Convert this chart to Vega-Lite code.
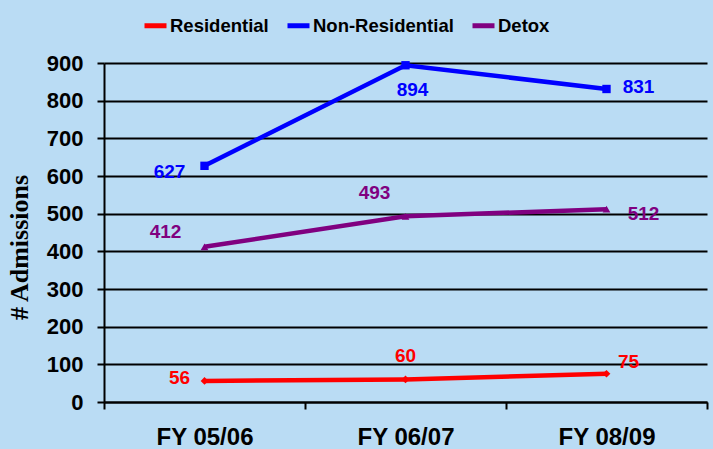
{
  "$schema": "https://vega.github.io/schema/vega-lite/v6.json",
  "width": 603,
  "height": 339,
  "autosize": {"type": "none"},
  "padding": {"left": 104, "top": 63, "right": 6, "bottom": 47},
  "background": "#badcf4",
  "config": {
    "view": {"stroke": null},
    "font": "Liberation Sans"
  },
  "data": {
    "values": [
      {"period": "FY 05/06", "series": "Residential", "admissions": 56},
      {"period": "FY 06/07", "series": "Residential", "admissions": 60},
      {"period": "FY 08/09", "series": "Residential", "admissions": 75},
      {"period": "FY 05/06", "series": "Non-Residential", "admissions": 627},
      {"period": "FY 06/07", "series": "Non-Residential", "admissions": 894},
      {"period": "FY 08/09", "series": "Non-Residential", "admissions": 831},
      {"period": "FY 05/06", "series": "Detox", "admissions": 412},
      {"period": "FY 06/07", "series": "Detox", "admissions": 493},
      {"period": "FY 08/09", "series": "Detox", "admissions": 512}
    ]
  },
  "encoding": {
    "x": {
      "field": "period", "type": "nominal", "sort": null,
      "scale": {"paddingInner": 0, "paddingOuter": 0},
      "axis": {
        "title": null, "labelAngle": 0, "tickBand": "extent",
        "domainColor": "black", "domainWidth": 2, "tickColor": "black", "tickWidth": 2, "tickSize": 7,
        "labelFont": "Liberation Sans", "labelFontWeight": "bold", "labelFontSize": 24, "labelColor": "black",
        "labelPadding": 16
      }
    },
    "y": {
      "field": "admissions", "type": "quantitative",
      "scale": {"domain": [0, 900], "nice": false},
      "axis": {
        "title": "# Admissions", "values": [0,100,200,300,400,500,600,700,800,900],
        "titleFont": "Liberation Serif", "titleFontWeight": "bold", "titleFontSize": 26, "titleColor": "black", "titlePadding": 14,
        "titleY": 184,
        "domainColor": "black", "domainWidth": 2, "tickColor": "black", "tickWidth": 2, "tickSize": 7,
        "gridColor": "black", "gridWidth": 2, "gridOpacity": 1,
        "labelFont": "Liberation Sans", "labelFontWeight": "bold", "labelFontSize": 22, "labelColor": "black",
        "labelPadding": 14
      }
    },
    "color": {
      "field": "series", "type": "nominal",
      "scale": {"domain": ["Residential", "Non-Residential", "Detox"], "range": ["#ff0000", "#0000ff", "#800080"]},
      "legend": null
    }
  },
  "layer": [
    {
      "mark": {"type": "line", "strokeWidth": 4.5},
      "encoding": {
        "color": {
          "field": "series", "type": "nominal",
          "scale": {"domain": ["Residential", "Non-Residential", "Detox"], "range": ["#ff0000", "#0000ff", "#800080"]},
          "legend": {
            "title": null, "orient": "none", "direction": "horizontal",
            "legendX": 38, "legendY": -51,
            "symbolType": "stroke", "symbolSize": 484, "symbolStrokeWidth": 5,
            "labelFont": "Liberation Sans", "labelFontWeight": "bold", "labelFontSize": 18.5, "labelColor": "black",
            "labelOffset": 1, "columnPadding": 8
          }
        }
      }
    },
    {
      "transform": [{"filter": "datum.series == 'Residential'"}],
      "mark": {"type": "point", "filled": true, "opacity": 1, "shape": "diamond", "size": 60}
    },
    {
      "transform": [{"filter": "datum.series == 'Non-Residential'"}],
      "mark": {"type": "point", "filled": true, "opacity": 1, "shape": "square", "size": 70}
    },
    {
      "transform": [{"filter": "datum.series == 'Detox'"}],
      "mark": {"type": "point", "filled": true, "opacity": 1, "shape": "triangle-up", "size": 60}
    },
    {
      "transform": [{"filter": "(datum.series == 'Non-Residential' && datum.period == 'FY 05/06')"}],
      "mark": {"type": "text", "fontWeight": "bold", "fontSize": 19, "dx": -35, "dy": 6},
      "encoding": {"text": {"field": "admissions"}}
    },
    {
      "transform": [{"filter": "(datum.series == 'Non-Residential' && datum.period == 'FY 06/07')"}],
      "mark": {"type": "text", "fontWeight": "bold", "fontSize": 19, "dx": 7, "dy": 25},
      "encoding": {"text": {"field": "admissions"}}
    },
    {
      "transform": [{"filter": "(datum.series == 'Non-Residential' && datum.period == 'FY 08/09')"}],
      "mark": {"type": "text", "fontWeight": "bold", "fontSize": 19, "dx": 32, "dy": -2},
      "encoding": {"text": {"field": "admissions"}}
    },
    {
      "transform": [{"filter": "(datum.series == 'Detox' && datum.period == 'FY 05/06')"}],
      "mark": {"type": "text", "fontWeight": "bold", "fontSize": 19, "dx": -39, "dy": -15},
      "encoding": {"text": {"field": "admissions"}}
    },
    {
      "transform": [{"filter": "(datum.series == 'Detox' && datum.period == 'FY 06/07')"}],
      "mark": {"type": "text", "fontWeight": "bold", "fontSize": 19, "dx": -31, "dy": -23},
      "encoding": {"text": {"field": "admissions"}}
    },
    {
      "transform": [{"filter": "(datum.series == 'Detox' && datum.period == 'FY 08/09')"}],
      "mark": {"type": "text", "fontWeight": "bold", "fontSize": 19, "dx": 37, "dy": 5},
      "encoding": {"text": {"field": "admissions"}}
    },
    {
      "transform": [{"filter": "(datum.series == 'Residential' && datum.period == 'FY 05/06')"}],
      "mark": {"type": "text", "fontWeight": "bold", "fontSize": 19, "dx": -25, "dy": -3},
      "encoding": {"text": {"field": "admissions"}}
    },
    {
      "transform": [{"filter": "(datum.series == 'Residential' && datum.period == 'FY 06/07')"}],
      "mark": {"type": "text", "fontWeight": "bold", "fontSize": 19, "dx": 0, "dy": -23},
      "encoding": {"text": {"field": "admissions"}}
    },
    {
      "transform": [{"filter": "(datum.series == 'Residential' && datum.period == 'FY 08/09')"}],
      "mark": {"type": "text", "fontWeight": "bold", "fontSize": 19, "dx": 22, "dy": -12},
      "encoding": {"text": {"field": "admissions"}}
    }
  ]
}
